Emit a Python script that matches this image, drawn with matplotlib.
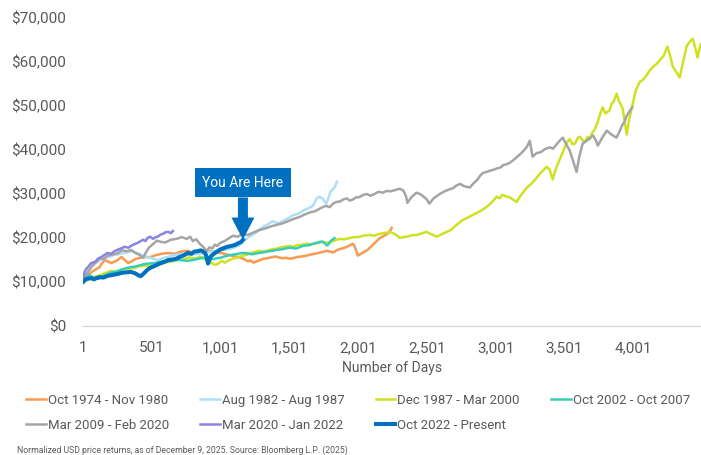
import matplotlib
matplotlib.use("Agg")
import matplotlib.pyplot as plt
from matplotlib.ticker import FuncFormatter

# Bull market growth of $10,000, indexed by number of days since the start of each run
orange_days = [1, 20, 40, 60, 80, 100, 120, 140, 160, 180, 205, 230, 250, 280, 305, 330, 355, 380,
               415, 450, 485, 520, 570, 620, 665, 715, 760, 800, 845, 890, 920, 950, 980, 1005,
               1040, 1070, 1100, 1130, 1165, 1200, 1220, 1240, 1265, 1290, 1315, 1340, 1370, 1400,
               1425, 1450, 1480, 1505, 1530, 1560, 1595, 1628, 1665, 1700, 1740, 1775, 1800, 1820,
               1845, 1870, 1895, 1920, 1945, 1963, 1975, 1985, 2000, 2015, 2030, 2050, 2070, 2095,
               2120, 2140, 2160, 2185, 2210, 2230, 2246]
orange_vals = [10000, 11000, 11600, 12200, 12600, 13000, 13300, 14300, 15000, 14700, 14300, 14600,
               14900, 15700, 15000, 14300, 14700, 15200, 15500, 15700, 15600, 16000, 16400, 16600,
               16400, 16900, 17100, 16700, 17000, 17300, 17000, 16900, 16600, 16600, 16300, 16100,
               15800, 15700, 15300, 14700, 14900, 14400, 14700, 15000, 15300, 15400, 15600, 15800,
               15600, 15400, 15500, 15300, 15400, 15700, 15800, 16000, 16300, 16500, 16800, 17100,
               16900, 16700, 17200, 17500, 17700, 18000, 18400, 18700, 18200, 17400, 16000, 16300,
               16600, 16900, 17300, 18000, 18800, 19400, 20000, 20400, 20900, 21400, 22300]

lblue_days = [1, 15, 30, 45, 60, 80, 100, 125, 150, 175, 200, 230, 260, 295, 330, 365, 400, 430,
              460, 490, 520, 550, 580, 615, 650, 685, 720, 760, 800, 840, 880, 915, 950, 985, 1020,
              1050, 1080, 1105, 1130, 1160, 1190, 1220, 1250, 1275, 1300, 1320, 1340, 1360, 1380,
              1405, 1430, 1455, 1480, 1505, 1530, 1555, 1577, 1600, 1620, 1645, 1672, 1690, 1700,
              1720, 1745, 1760, 1770, 1785, 1800, 1815, 1830, 1847]
lblue_vals = [10000, 11000, 11800, 12600, 13500, 14200, 14500, 15000, 15200, 15600, 15800, 16200,
              16300, 16600, 16800, 17000, 16500, 16100, 15800, 15500, 15200, 15000, 15400, 15700,
              16000, 16200, 16300, 16100, 16400, 16300, 16600, 16800, 16900, 17100, 17200, 17400,
              17600, 17900, 18200, 19000, 19800, 20500, 21000, 21600, 22300, 22700, 23000, 23400,
              23800, 23500, 23400, 23900, 24300, 24700, 25200, 25400, 25700, 26200, 26500, 26800,
              27300, 28300, 29000, 29400, 28900, 28200, 27800, 29000, 30500, 31000, 31500, 32800]

yellow_days = [1, 30, 60, 90, 120, 160, 205, 240, 280, 330, 378, 410, 450, 490, 520, 567, 610, 650,
               690, 730, 770, 815, 850, 870, 900, 930, 960, 982, 1010, 1033, 1060, 1090, 1130,
               1165, 1195, 1222, 1250, 1280, 1310, 1338, 1370, 1400, 1430, 1460, 1505, 1530, 1560,
               1600, 1628, 1660, 1700, 1740, 1775, 1800, 1820, 1845, 1868, 1900, 1940, 1970, 2000,
               2040, 2087, 2120, 2150, 2190, 2232, 2260, 2283, 2305, 2330, 2355, 2390, 2428, 2460,
               2500, 2530, 2573, 2600, 2625, 2647, 2675, 2700, 2730, 2763, 2790, 2820, 2845, 2865,
               2900, 2937, 2970, 3010, 3030, 3050, 3075, 3105, 3130, 3155, 3175, 3200, 3230, 3270,
               3295, 3320, 3345, 3373, 3395, 3416, 3440, 3467, 3490, 3515, 3540, 3560, 3580, 3600,
               3613, 3635, 3650, 3670, 3685, 3705, 3720, 3745, 3765, 3780, 3800, 3830, 3845, 3860,
               3882, 3900, 3925, 3940, 3955, 3970, 3995, 4020, 4050, 4075, 4100, 4120, 4143, 4170,
               4195, 4225, 4250, 4270, 4289, 4310, 4340, 4365, 4390, 4410, 4435, 4455, 4470, 4480,
               4492]
yellow_vals = [10000, 10400, 10700, 11200, 11500, 12000, 12500, 12300, 12800, 13000, 13200, 13600,
               13700, 13500, 14100, 14100, 14500, 14700, 15000, 15100, 15600, 15300, 15700, 15600,
               14800, 14400, 13900, 14100, 14800, 14400, 14900, 15300, 15600, 16000, 16200, 16600,
               16800, 17100, 16900, 17100, 17400, 17500, 17800, 18000, 18200, 18000, 18400, 18500,
               18700, 18600, 18800, 19100, 18900, 19100, 19300, 19600, 19800, 19700, 20000, 20200,
               20200, 20500, 20700, 20500, 20900, 21100, 21400, 21000, 20600, 20000, 20200, 20300,
               20600, 20700, 21000, 21400, 20900, 20300, 20700, 21100, 21400, 21800, 22500, 23300,
               24100, 24500, 25000, 25400, 25700, 26300, 27100, 28000, 29400, 29000, 29800, 29500,
               29200, 28700, 28200, 29300, 30300, 31500, 32600, 33500, 34500, 35300, 36200, 35500,
               33300, 35800, 37800, 39500, 41500, 42500, 41300, 41500, 42800, 43000, 42200, 41800,
               43000, 42500, 44000, 44500, 46500, 48500, 49700, 48300, 49000, 50500, 51000, 52800,
               51000, 49500, 46500, 43500, 46500, 50000, 53500, 55500, 56000, 57000, 58000, 58800,
               59500, 60400, 61500, 63500, 61500, 59000, 58000, 56500, 60000, 63500, 64500, 65300,
               63000, 61000, 62500, 64000]

teal_days = [1, 20, 37, 60, 80, 110, 135, 160, 200, 230, 255, 290, 320, 350, 380, 415, 450, 485,
             520, 550, 580, 610, 640, 670, 700, 730, 763, 800, 830, 860, 890, 920, 950, 975, 1000,
             1030, 1055, 1085, 1110, 1140, 1165, 1200, 1230, 1265, 1300, 1340, 1380, 1410, 1440,
             1470, 1505, 1530, 1550, 1575, 1600, 1625, 1650, 1675, 1700, 1720, 1740, 1760, 1775,
             1790, 1800, 1815, 1830]
teal_vals = [10000, 11200, 11800, 11300, 11000, 10700, 11200, 11500, 12100, 12300, 12500, 12900,
             13200, 13400, 13500, 13800, 14100, 14200, 14300, 14500, 14700, 14600, 14800, 15000,
             15000, 14900, 14800, 15000, 15200, 15400, 15500, 15300, 15200, 15400, 15500, 15800,
             16000, 16200, 16300, 16500, 16600, 16500, 16300, 16500, 16700, 16900, 17100, 17300,
             17400, 17600, 17800, 17700, 17600, 17900, 18200, 18300, 18400, 18700, 18900, 19100,
             19200, 18800, 18300, 18700, 19300, 19600, 20000]

gray_days = [1, 20, 40, 60, 80, 100, 124, 150, 180, 210, 250, 285, 320, 350, 380, 410, 437, 460,
             480, 510, 538, 570, 600, 640, 680, 720, 755, 780, 800, 825, 850, 875, 900, 920, 940,
             960, 975, 1000, 1030, 1060, 1090, 1125, 1160, 1200, 1236, 1280, 1320, 1365, 1410,
             1450, 1490, 1530, 1577, 1610, 1650, 1690, 1723, 1750, 1770, 1795, 1818, 1845, 1870,
             1895, 1920, 1940, 1960, 1985, 2010, 2040, 2065, 2090, 2120, 2150, 2180, 2210, 2240,
             2270, 2305, 2330, 2350, 2360, 2390, 2425, 2450, 2470, 2500, 2520, 2550, 2595, 2630,
             2660, 2690, 2720, 2745, 2770, 2795, 2815, 2840, 2870, 2890, 2910, 2935, 2960, 2985,
             3010, 3035, 3060, 3085, 3105, 3130, 3160, 3185, 3210, 3230, 3250, 3262, 3270, 3300,
             3330, 3360, 3395, 3420, 3450, 3470, 3490, 3515, 3540, 3565, 3590, 3610, 3635, 3660,
             3680, 3710, 3730, 3745, 3780, 3810, 3845, 3880, 3900, 3920, 3940, 3955, 3975, 3995]
gray_vals = [10000, 11500, 12500, 13300, 14000, 14600, 15500, 15200, 16000, 16200, 16500, 17200,
             17000, 17300, 16600, 16200, 15500, 16800, 17800, 18600, 19400, 19100, 19000, 19600,
             19800, 20200, 19800, 20300, 19300, 19700, 18700, 18000, 17000, 17900, 17600, 18500,
             18200, 18900, 19300, 19900, 20500, 20300, 20900, 20700, 21200, 21800, 22100, 22600,
             23000, 23300, 23800, 24300, 24800, 25300, 25800, 26100, 26700, 27100, 27300, 27000,
             27800, 28200, 28300, 28800, 29000, 28500, 28700, 29200, 29300, 29800, 30000, 29600,
             30000, 30500, 30300, 30700, 30600, 30900, 31200, 30800, 29500, 28000, 29300, 30300,
             30000, 29600, 28800, 27800, 29000, 30000, 30600, 31000, 31300, 32000, 32300, 31800,
             31600, 31500, 32400, 33300, 34200, 34800, 35000, 35300, 35500, 35800, 36000, 36600,
             36800, 37100, 37700, 38500, 39200, 40000, 40800, 42100, 40000, 38500, 39300, 39500,
             40200, 40600, 40300, 41500, 42200, 42800, 41300, 39900, 37500, 35000, 38500, 41500,
             42000, 42500, 43300, 42200, 41000, 43000, 44400, 43500, 42800, 44000, 45500, 46500,
             47800, 48800, 49700]

purple_days = [1, 8, 15, 25, 40, 60, 90, 110, 130, 155, 180, 205, 230, 260, 305, 330, 350, 375,
               400, 420, 437, 455, 470, 490, 510, 530, 545, 565, 580, 600, 620, 640, 655]
purple_vals = [10000, 11600, 12500, 13000, 13500, 14300, 14600, 15300, 15600, 16100, 16600, 16400,
               17000, 17400, 18000, 17800, 18200, 18600, 18900, 19300, 19600, 19300, 20000, 20300,
               19800, 20200, 20300, 20800, 20900, 21300, 21400, 21100, 21600]

blue_days = [1, 20, 40, 60, 80, 100, 125, 150, 180, 215, 250, 285, 320, 350, 378, 400, 420, 445,
             470, 495, 520, 545, 567, 595, 620, 650, 680, 705, 730, 763, 790, 810, 835, 858, 875,
             890, 900, 910, 920, 930, 945, 960, 980, 1000, 1025, 1050, 1080, 1105, 1130, 1150, 1164]
blue_vals = [10000, 10600, 10800, 10900, 10600, 10900, 11100, 11000, 11400, 11600, 11800, 12100,
             12200, 12300, 12000, 11600, 11300, 12000, 12800, 13300, 13600, 14000, 14300, 14600,
             15000, 15100, 15300, 15700, 16000, 16600, 16400, 16900, 17000, 17200, 16900, 16500,
             15700, 14200, 15000, 15800, 16200, 16600, 17000, 17400, 17700, 18000, 18200, 18400,
             18800, 19100, 19600]

series = [
    ("Oct 1974 - Nov 1980", orange_days, orange_vals, "#FA9A50", 1.8),
    ("Aug 1982 - Aug 1987", lblue_days, lblue_vals, "#AEDFF8", 1.8),
    ("Dec 1987 - Mar 2000", yellow_days, yellow_vals, "#CFE120", 1.8),
    ("Oct 2002 - Oct 2007", teal_days, teal_vals, "#36CFB5", 1.8),
    ("Mar 2009 - Feb 2020", gray_days, gray_vals, "#A5A5A5", 1.8),
    ("Mar 2020 - Jan 2022", purple_days, purple_vals, "#8A84E2", 1.8),
    ("Oct 2022 - Present", blue_days, blue_vals, "#0070C0", 2.9),
]

x_ticks = [1, 501, 1001, 1501, 2001, 2501, 3001, 3501, 4001]
y_ticks = [0, 10000, 20000, 30000, 40000, 50000, 60000, 70000]

txt_color = "#595959"
plt.rcParams["font.family"] = ["Roboto", "DejaVu Sans"]

fig = plt.figure(figsize=(7.01, 4.55), dpi=100)
ax = fig.add_axes([83 / 701, 1 - 326 / 455, 1 - 83 / 701, (326 - 18) / 455])

lines = []
for label, d, v, c, lw in series:
    ln, = ax.plot(d, v, color=c, lw=lw, label=label, solid_joinstyle="round")
    lines.append(ln)

ax.set_xlim(1, 4495)
ax.set_ylim(0, 70000)
ax.set_xticks(x_ticks)
ax.set_yticks(y_ticks)
ax.xaxis.set_major_formatter(FuncFormatter(lambda x, p: f"{int(x):,}"))
ax.yaxis.set_major_formatter(FuncFormatter(lambda y, p: f"${int(y):,}"))
ax.tick_params(axis="both", length=0, labelsize=11, labelcolor=txt_color)
ax.tick_params(axis="x", pad=11)
ax.tick_params(axis="y", pad=12)
for s in ["top", "right", "left"]:
    ax.spines[s].set_visible(False)
ax.spines["bottom"].set_color("#D9D9D9")
ax.spines["bottom"].set_linewidth(1.0)
ax.set_xlabel("Number of Days", fontsize=10, color=txt_color, labelpad=4)

# callout pointing at the latest point of the current run
ax.annotate("You Are Here", xy=(blue_days[-1], blue_vals[-1]), xytext=(0, 41),
            textcoords="offset points", ha="center", va="center",
            fontsize=10, color="white",
            bbox=dict(boxstyle="square,pad=0.55", fc="#0070C0", ec="none"),
            arrowprops=dict(arrowstyle="simple,head_length=1.6,head_width=1.65,tail_width=0.72",
                            fc="#0070C0", ec="none", shrinkA=0, shrinkB=0))

# legend filled row by row: 4 entries on top, 3 below
order = [0, 4, 1, 5, 2, 6, 3]
fig.legend([lines[i] for i in order], [series[i][0] for i in order],
           loc="upper left", bbox_to_anchor=(26 / 701, 1 - 394 / 455), ncol=4,
           frameon=False, fontsize=9.5, handlelength=1.5, handletextpad=0.15,
           columnspacing=2.35, labelspacing=0.9, borderpad=0, borderaxespad=0,
           labelcolor=txt_color)

fig.text(17 / 701, 1 - 450 / 455, "Normalized USD price returns, as of December 9, 2025. "
         "Source: Bloomberg L.P. (2025)", fontsize=6.2, color=txt_color, va="center")

fig.savefig("out.png", dpi=100)
